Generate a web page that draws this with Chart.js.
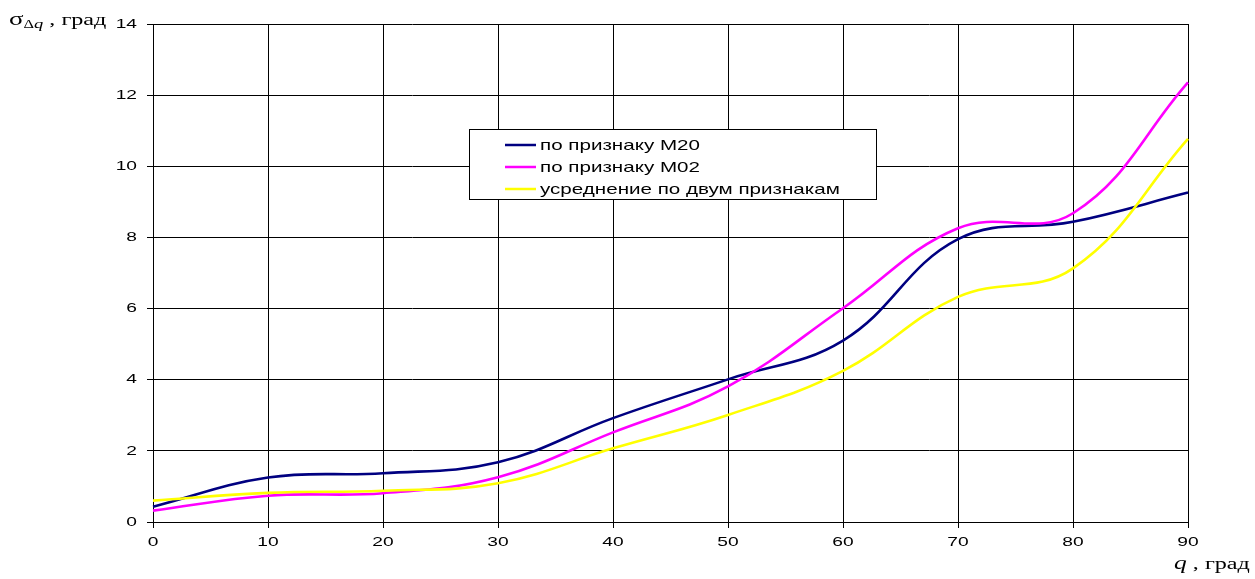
<!DOCTYPE html>
<html>
<head>
<meta charset="utf-8">
<script src="https://cdn.jsdelivr.net/npm/chart.js@4"></script>
<style>
  html, body { margin: 0; padding: 0; background: #fff; }
  #wrap { position: relative; width: 1255px; height: 579px; }
  canvas { display: block; }
</style>
</head>
<body>
<div id="wrap"><canvas id="c" width="1255" height="579"></canvas></div>
<script>
// Angle q, degrees
const angles = [0, 10, 20, 30, 40, 50, 60, 70, 80, 90];
// Standard deviation of the angle error, degrees
const sigmaM20 = [0.43, 1.25, 1.37, 1.68, 2.92, 4.01, 5.10, 7.95, 8.44, 9.26];
const sigmaM02 = [0.32, 0.74, 0.81, 1.26, 2.52, 3.81, 6.01, 8.26, 8.68, 12.36];
const sigmaAvg = [0.60, 0.82, 0.88, 1.09, 2.07, 3.01, 4.25, 6.33, 7.13, 10.77];

const seriesNames = ['по признаку М20', 'по признаку М02', 'усреднение по двум признакам'];
const seriesColors = ['#000080', '#FF00FF', '#FFFF00'];

const yMin = 0, yMax = 14, yStep = 2;

// horizontal stretch applied to all text
const SX = 1.42;

function wideText(ctx, text, x, y, align) {
  const w = ctx.measureText(text).width * SX;
  let left = x;
  if (align === 'right') left = x - w;
  else if (align === 'center') left = x - w / 2;
  ctx.save();
  ctx.translate(left, y);
  ctx.scale(SX, 1);
  ctx.textAlign = 'left';
  ctx.fillText(text, 0, 0);
  ctx.restore();
  return w;
}

const textPlugin = {
  id: 'textPlugin',
  afterDraw(chart) {
    const ctx = chart.ctx;
    const xs = chart.scales.x, ys = chart.scales.y;
    ctx.save();
    ctx.fillStyle = '#000';

    // tick labels
    ctx.font = '13.5px "Liberation Sans", Arial, sans-serif';
    ctx.textBaseline = 'middle';
    ys.ticks.forEach((t, i) => {
      wideText(ctx, String(t.value), 137, ys.getPixelForTick(i), 'right');
    });
    ctx.textBaseline = 'top';
    xs.ticks.forEach((t, i) => {
      wideText(ctx, xs.getLabelForValue(t.value), xs.getPixelForTick(i), 536, 'center');
    });

    // axis titles
    ctx.textBaseline = 'alphabetic';
    let x = 9;
    ctx.font = '19px "Liberation Serif", "Times New Roman", serif';
    x += wideText(ctx, 'σ', x, 25, 'left');
    ctx.font = '11.5px "Liberation Serif", "Times New Roman", serif';
    x += wideText(ctx, 'Δ', x, 28, 'left');
    ctx.font = 'italic 13px "Liberation Serif", "Times New Roman", serif';
    x += wideText(ctx, 'q', x, 28, 'left');
    ctx.font = '17px "Liberation Serif", "Times New Roman", serif';
    wideText(ctx, ' , град', x, 25, 'left');

    let x2 = 1174;
    ctx.font = 'italic 18px "Liberation Serif", "Times New Roman", serif';
    x2 += wideText(ctx, 'q', x2, 569, 'left');
    ctx.font = '17px "Liberation Serif", "Times New Roman", serif';
    wideText(ctx, ' , град', x2, 569, 'left');

    // legend box
    const lx = 469.5, ly = 129.5, lw = 407, lh = 70;
    ctx.fillStyle = '#fff';
    ctx.fillRect(lx, ly, lw, lh);
    ctx.strokeStyle = '#000';
    ctx.lineWidth = 1;
    ctx.strokeRect(lx, ly, lw, lh);
    ctx.font = '14.5px "Liberation Sans", Arial, sans-serif';
    ctx.textBaseline = 'middle';
    seriesNames.forEach((name, i) => {
      const cy = 145 + i * 22;
      ctx.strokeStyle = seriesColors[i];
      ctx.lineWidth = 2.5;
      ctx.beginPath();
      ctx.moveTo(505, cy);
      ctx.lineTo(536, cy);
      ctx.stroke();
      ctx.fillStyle = '#000';
      wideText(ctx, name, 540, cy + 1, 'left');
    });
    ctx.restore();
  }
};

const seriesData = [sigmaM20, sigmaM02, sigmaAvg];

new Chart(document.getElementById('c'), {
  type: 'line',
  data: {
    labels: angles.map(String),
    datasets: seriesData.map((vals, i) => ({
      label: seriesNames[i],
      data: vals,
      borderColor: seriesColors[i],
      backgroundColor: seriesColors[i],
      borderWidth: 2.6,
      pointRadius: 0,
      tension: 0.4,
      fill: false,
      order: 3 - i
    }))
  },
  options: {
    responsive: false,
    devicePixelRatio: 1,
    animation: false,
    layout: { padding: { top: 24, right: 67, left: 0, bottom: 0 } },
    plugins: { legend: { display: false }, tooltip: { enabled: false } },
    scales: {
      x: {
        type: 'category',
        offset: false,
        grid: { color: '#000', lineWidth: 1, drawTicks: true, tickLength: 6, tickColor: '#000' },
        border: { color: '#000', width: 1 },
        ticks: { display: false },
        afterFit(s) { s.height = 57; }
      },
      y: {
        min: yMin,
        max: yMax,
        ticks: { display: false, stepSize: yStep },
        grid: { color: '#000', lineWidth: 1, drawTicks: true, tickLength: 6, tickColor: '#000' },
        border: { color: '#000', width: 1 },
        afterFit(s) { s.width = 153; }
      }
    }
  },
  plugins: [textPlugin]
});
</script>
</body>
</html>
